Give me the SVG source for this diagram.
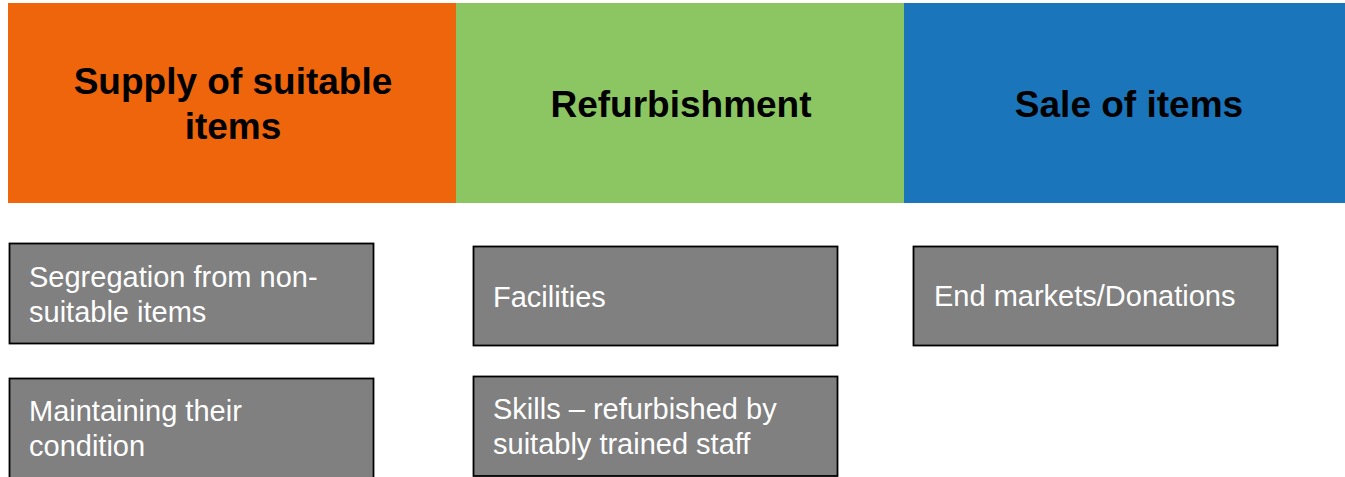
<svg xmlns="http://www.w3.org/2000/svg" width="1345" height="477" viewBox="0 0 1345 477">
<style>
.hdr{font-family:"Liberation Sans",Arial,sans-serif;font-weight:bold;font-size:37px;fill:#000;text-anchor:middle}
.box{fill:#808080;stroke:#000;stroke-width:1.8}
.txt{font-family:"Liberation Sans",Arial,sans-serif;font-size:29px;fill:#fff}
</style>
<rect width="1345" height="477" fill="#fff"/>
<g id="header-supply">
<rect x="8" y="3" width="448" height="200" fill="#EE650B"/>
<text class="hdr" x="233" y="94">Supply of suitable</text>
<text class="hdr" x="233" y="139">items</text>
</g>
<g id="header-refurbishment">
<rect x="456" y="3" width="448" height="200" fill="#8CC662"/>
<text class="hdr" x="681" y="117">Refurbishment</text>
</g>
<g id="header-sale">
<rect x="904" y="3" width="441" height="200" fill="#1B75BB"/>
<text class="hdr" x="1129" y="117">Sale of items</text>
</g>
<g id="box-segregation">
<rect class="box" x="9.5" y="243.5" width="364" height="100"/>
<text class="txt" x="29" y="287">Segregation from non-</text>
<text class="txt" x="29" y="322">suitable items</text>
</g>
<g id="box-maintaining">
<rect class="box" x="9.5" y="378.5" width="364" height="100"/>
<text class="txt" x="29" y="421">Maintaining their</text>
<text class="txt" x="29" y="456">condition</text>
</g>
<g id="box-facilities">
<rect class="box" x="473.5" y="246.5" width="364" height="99"/>
<text class="txt" x="493" y="307">Facilities</text>
</g>
<g id="box-skills">
<rect class="box" x="473.5" y="376.5" width="364" height="99.5"/>
<text class="txt" x="493" y="419">Skills – refurbished by</text>
<text class="txt" x="493" y="454">suitably trained staff</text>
</g>
<g id="box-endmarkets">
<rect class="box" x="913.5" y="246.5" width="364" height="99"/>
<text class="txt" x="934" y="306">End markets/Donations</text>
</g>
<g id="connectors"></g>
</svg>
